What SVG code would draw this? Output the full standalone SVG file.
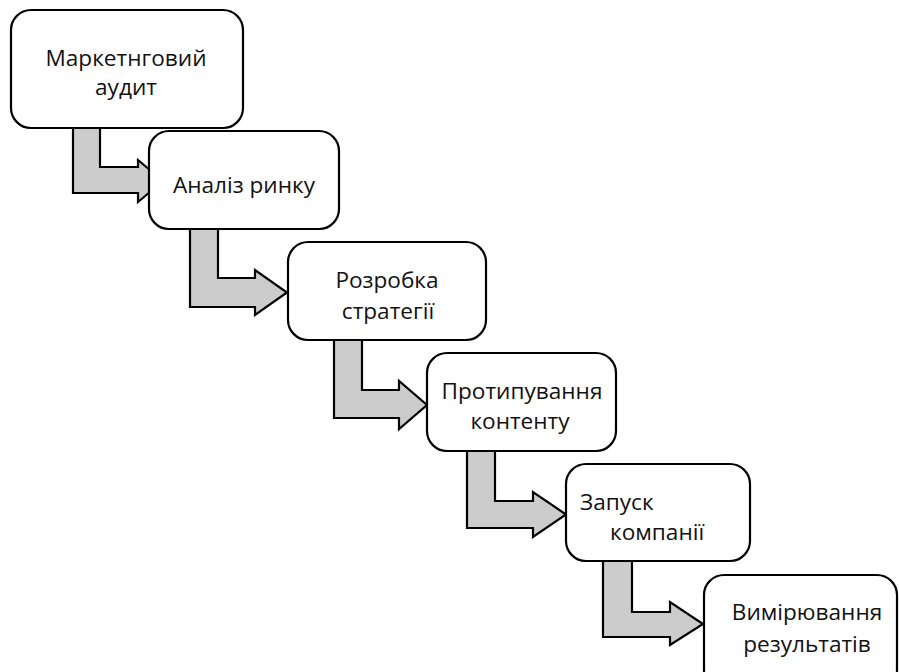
<svg xmlns="http://www.w3.org/2000/svg" width="899" height="672" viewBox="0 0 899 672">
<style>
.box{fill:#ffffff;stroke:#000000;stroke-width:2.2}
.arr{fill:#cccccc;stroke:#000000;stroke-width:2.2;stroke-linejoin:miter}
text{font-family:"Open Sans","Liberation Sans",sans-serif;font-size:22.6px;fill:#111111}
.c{text-anchor:middle}
</style>
<rect width="899" height="672" fill="#ffffff"/>
<g id="connectors">
<path class="arr" d="M73,123 L100,123 L100,167 L138,167 L138,160 L163,181 L138,202 L138,193 L73,193 Z"/>
<path class="arr" d="M190,224 L218,224 L218,278 L255,278 L255,270 L287,292.5 L255,315 L255,307 L190,307 Z"/>
<path class="arr" d="M334,335 L362,335 L362,390 L399,390 L399,381 L427,405 L399,429 L399,418 L334,418 Z"/>
<path class="arr" d="M467,446 L495,446 L495,501 L533,501 L533,492 L566,514.5 L533,537 L533,528 L467,528 Z"/>
<path class="arr" d="M603,557 L632,557 L632,612 L670,612 L670,602 L703,624 L670,645 L670,637 L603,637 Z"/>
</g>
<g id="node1">
<rect class="box" x="11" y="10" width="232" height="118" rx="20"/>
<text class="c" x="126" y="66">Маркетнговий</text>
<text class="c" x="126" y="95">аудит</text>
</g>
<g id="node2">
<rect class="box" x="149" y="131" width="190" height="98" rx="20"/>
<text class="c" x="244" y="193">Аналіз ринку</text>
</g>
<g id="node3">
<rect class="box" x="288" y="242" width="198" height="98" rx="20"/>
<text class="c" x="387" y="288">Розробка</text>
<text class="c" x="388" y="319">стратегії</text>
</g>
<g id="node4">
<rect class="box" x="427" y="353" width="189" height="98" rx="20"/>
<text class="c" x="522" y="399">Протипування</text>
<text class="c" x="520" y="429">контенту</text>
</g>
<g id="node5">
<rect class="box" x="566" y="464" width="184" height="97" rx="20"/>
<text x="580" y="510">Запуск</text>
<text x="610" y="540">компанії</text>
</g>
<g id="node6">
<rect class="box" x="704" y="575" width="193" height="115" rx="20"/>
<text class="c" x="807" y="620">Вимірювання</text>
<text class="c" x="807" y="652">результатів</text>
</g>
</svg>
